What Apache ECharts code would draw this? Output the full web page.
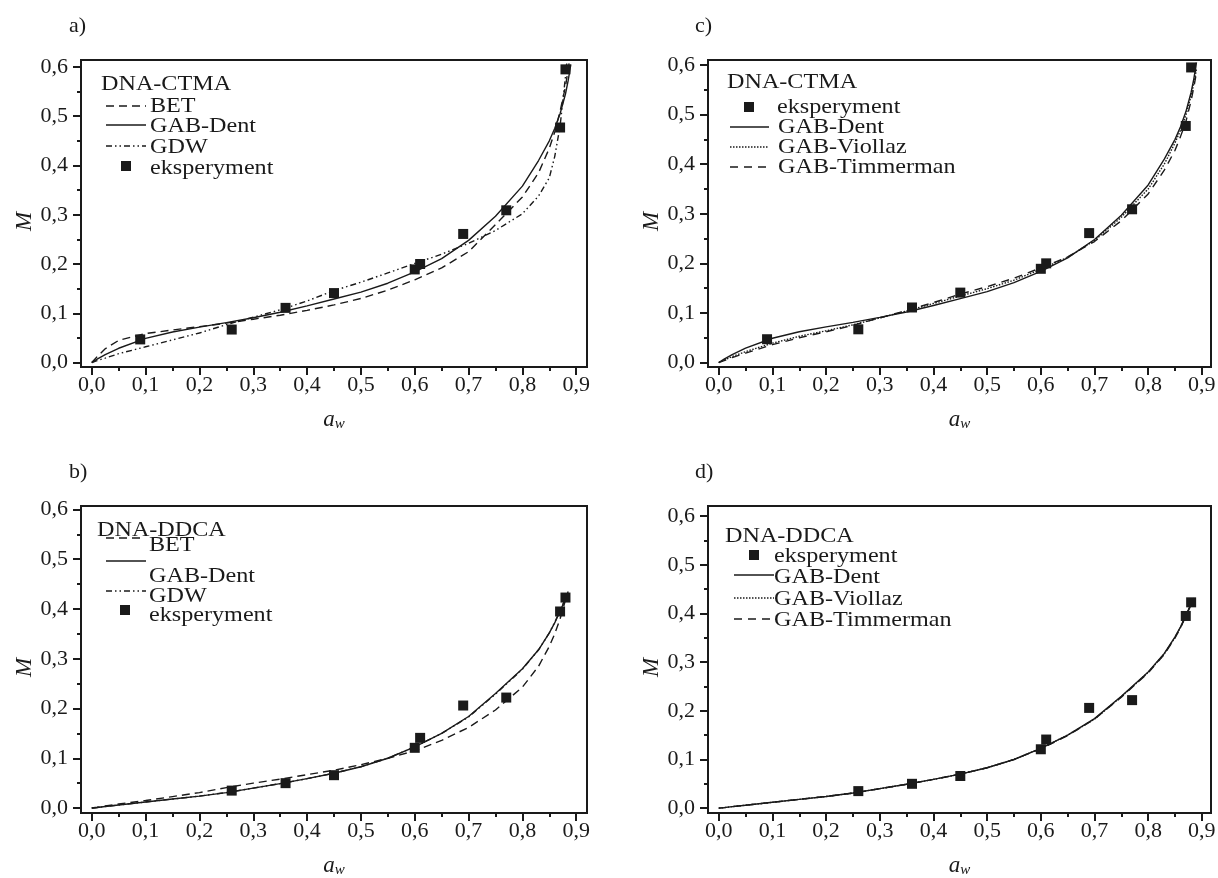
<!DOCTYPE html>
<html>
<head>
<meta charset="utf-8">
<script src="https://cdn.jsdelivr.net/npm/echarts@6/dist/echarts.min.js"></script>
<style>
  html, body { margin: 0; padding: 0; background: #fff; }
  #chart { width: 1218px; height: 878px; }
</style>
</head>
<body>
<div id="chart"></div>
<script>
// ---- measured points ----
const awCTMA = [0.09, 0.26, 0.36, 0.45, 0.60, 0.61, 0.69, 0.77, 0.87, 0.88]
const mCTMA = [0.047, 0.067, 0.111, 0.141, 0.189, 0.200, 0.261, 0.309, 0.477, 0.595]
const awDDCA = [0.26, 0.36, 0.45, 0.60, 0.61, 0.69, 0.77, 0.87, 0.88]
const mDDCA = [0.035, 0.050, 0.066, 0.121, 0.141, 0.206, 0.222, 0.395, 0.423]

// ---- model curves ----
const curveAw = [0, 0.01, 0.025, 0.05, 0.1, 0.15, 0.2, 0.25, 0.3, 0.35, 0.4, 0.45, 0.5, 0.55, 0.6, 0.65, 0.7, 0.75, 0.8, 0.83, 0.85, 0.86, 0.87, 0.88, 0.885, 0.89]
// DNA-CTMA
const betCTMA = [0, 0.012, 0.028, 0.045, 0.059, 0.066, 0.073, 0.080, 0.088, 0.096, 0.106, 0.117, 0.130, 0.147, 0.168, 0.192, 0.225, 0.280, 0.336, 0.385, 0.435, 0.468, 0.510, 0.560, 0.595, 0.630]
const dentCTMA = [0, 0.007, 0.016, 0.029, 0.049, 0.062, 0.072, 0.081, 0.091, 0.102, 0.115, 0.129, 0.143, 0.161, 0.184, 0.211, 0.248, 0.297, 0.358, 0.410, 0.450, 0.475, 0.505, 0.545, 0.572, 0.605]
const gdwCTMA = [0, 0.004, 0.009, 0.018, 0.032, 0.046, 0.060, 0.077, 0.092, 0.107, 0.125, 0.146, 0.163, 0.182, 0.201, 0.220, 0.242, 0.268, 0.302, 0.338, 0.375, 0.418, 0.480, 0.580, 0.640, null]
const viollazCTMA = [0, 0.005, 0.012, 0.022, 0.039, 0.053, 0.064, 0.076, 0.090, 0.104, 0.119, 0.134, 0.149, 0.166, 0.188, 0.212, 0.246, 0.293, 0.350, 0.400, 0.443, 0.468, 0.498, 0.538, 0.563, 0.592]
const timmermanCTMA = [0, 0.004, 0.010, 0.019, 0.036, 0.050, 0.062, 0.075, 0.090, 0.105, 0.121, 0.138, 0.153, 0.170, 0.191, 0.213, 0.244, 0.286, 0.340, 0.388, 0.428, 0.455, 0.485, 0.528, 0.555, 0.585]
// DNA-DDCA
const betDDCA = [0, 0.0015, 0.004, 0.008, 0.015, 0.023, 0.031, 0.041, 0.050, 0.058, 0.067, 0.076, 0.087, 0.100, 0.115, 0.136, 0.162, 0.197, 0.243, 0.285, 0.325, 0.350, 0.380, 0.418, 0.435, null]
const dentDDCA = [0, 0.001, 0.003, 0.006, 0.012, 0.018, 0.024, 0.031, 0.040, 0.049, 0.059, 0.070, 0.083, 0.100, 0.123, 0.150, 0.184, 0.230, 0.280, 0.318, 0.352, 0.372, 0.396, 0.420, 0.432, null]
const gdwDDCA = [0, 0.001, 0.003, 0.006, 0.012, 0.018, 0.024, 0.031, 0.040, 0.049, 0.059, 0.070, 0.083, 0.100, 0.123, 0.150, 0.183, 0.229, 0.279, 0.318, 0.352, 0.373, 0.397, 0.421, 0.432, null]
const viollazDDCA = [0, 0.001, 0.003, 0.006, 0.012, 0.018, 0.024, 0.031, 0.040, 0.049, 0.059, 0.070, 0.083, 0.100, 0.123, 0.150, 0.183, 0.229, 0.279, 0.317, 0.351, 0.371, 0.395, 0.419, 0.431, null]
const timmermanDDCA = [0, 0.001, 0.003, 0.006, 0.012, 0.018, 0.024, 0.031, 0.040, 0.049, 0.059, 0.070, 0.083, 0.100, 0.122, 0.149, 0.183, 0.228, 0.278, 0.316, 0.350, 0.370, 0.394, 0.418, 0.430, null]

// ---- ticks ----
const xMajor = [0, 0.1, 0.2, 0.3, 0.4, 0.5, 0.6, 0.7, 0.8, 0.9]
const xMinor = [0.05, 0.15, 0.25, 0.35, 0.45, 0.55, 0.65, 0.75, 0.85]
const yMajor = [0, 0.1, 0.2, 0.3, 0.4, 0.5, 0.6]
const yMinor = [0.05, 0.15, 0.25, 0.35, 0.45, 0.55]

const FONT = '"Liberation Serif", "DejaVu Serif", serif'
const INK = '#1a1a1a'
const DASH_BET = [8, 5]
const DASH_GDW = [6, 3, 1.5, 3, 1.5, 3]
const DASH_VIOL = [1.5, 1.5]
const DASH_TIMM = [8, 6]

const panels = [
  { grid: { left: 81, top: 60, width: 506, height: 307 }, x: [-0.02, 0.92], y: [-0.009, 0.614] },
  { grid: { left: 708, top: 60, width: 503, height: 307 }, x: [-0.02, 0.917], y: [-0.009, 0.61] },
  { grid: { left: 81, top: 506, width: 506, height: 307 }, x: [-0.02, 0.92], y: [-0.01, 0.607] },
  { grid: { left: 708, top: 506, width: 503, height: 307 }, x: [-0.02, 0.917], y: [-0.01, 0.621] }
]

const fmt = (v) => v.toFixed(1).replace('.', ',')

const grids = []
const xAxes = []
const yAxes = []
panels.forEach((p, i) => {
  grids.push({
    ...p.grid,
    show: true,
    borderColor: INK,
    borderWidth: 2,
    backgroundColor: 'transparent',
    containLabel: false,
    outerBoundsMode: 'none'
  })
  xAxes.push({
    type: 'value', gridIndex: i, position: 'bottom', min: p.x[0], max: p.x[1],
    axisLine: { show: true, onZero: false, lineStyle: { color: INK, width: 2 } },
    axisTick: { show: true, customValues: xMajor, length: 8, lineStyle: { color: INK, width: 2 } },
    axisLabel: { customValues: xMajor, formatter: fmt, margin: 7, color: INK, fontFamily: FONT, fontSize: 22 },
    splitLine: { show: false },
    name: '{a|a}{w|w}', nameLocation: 'middle', nameGap: 41,
    nameTextStyle: {
      rich: {
        a: { fontFamily: FONT, fontStyle: 'italic', fontSize: 23, lineHeight: 24, color: INK, verticalAlign: 'top' },
        w: { fontFamily: FONT, fontStyle: 'italic', fontSize: 15, lineHeight: 16, color: INK, verticalAlign: 'bottom', padding: [12, 0, 0, 0] }
      }
    }
  })
  xAxes.push({
    type: 'value', gridIndex: i, position: 'bottom', offset: 0, min: p.x[0], max: p.x[1],
    axisLine: { show: false, onZero: false },
    axisTick: { show: true, customValues: xMinor, length: 4, lineStyle: { color: INK, width: 2 } },
    axisLabel: { show: false },
    splitLine: { show: false }
  })
  yAxes.push({
    type: 'value', gridIndex: i, position: 'left', min: p.y[0], max: p.y[1],
    axisLine: { show: true, onZero: false, lineStyle: { color: INK, width: 2 } },
    axisTick: { show: true, customValues: yMajor, length: 8, lineStyle: { color: INK, width: 2 } },
    axisLabel: { customValues: yMajor, formatter: fmt, margin: 13, color: INK, fontFamily: FONT, fontSize: 22 },
    splitLine: { show: false },
    name: 'M', nameLocation: 'middle', nameGap: 44,
    nameTextStyle: { fontFamily: FONT, fontStyle: 'italic', fontSize: 23, color: INK, padding: [0, 16, 0, 0] }
  })
  yAxes.push({
    type: 'value', gridIndex: i, position: 'left', offset: 0, min: p.y[0], max: p.y[1],
    axisLine: { show: false, onZero: false },
    axisTick: { show: true, customValues: yMinor, length: 4, lineStyle: { color: INK, width: 2 } },
    axisLabel: { show: false },
    splitLine: { show: false }
  })
})

const zip = (xs, ys) => xs.map((x, i) => [x, ys[i]])

const curve = (panel, ys, dash) => ({
  type: 'line',
  xAxisIndex: panel * 2,
  yAxisIndex: panel * 2,
  data: zip(curveAw, ys),
  symbol: 'none',
  smooth: false,
  lineStyle: { color: INK, width: 1.4, type: dash },
  silent: true,
  z: 3
})

const points = (panel, xs, ys) => ({
  type: 'scatter',
  xAxisIndex: panel * 2,
  yAxisIndex: panel * 2,
  data: zip(xs, ys),
  symbol: 'rect',
  symbolSize: 10,
  itemStyle: { color: INK, opacity: 1 },
  silent: true,
  z: 5
})

const series = [
  // a) DNA-CTMA
  curve(0, betCTMA, DASH_BET),
  curve(0, dentCTMA, 'solid'),
  curve(0, gdwCTMA, DASH_GDW),
  points(0, awCTMA, mCTMA),
  // c) DNA-CTMA
  curve(1, dentCTMA, 'solid'),
  curve(1, viollazCTMA, DASH_VIOL),
  curve(1, timmermanCTMA, DASH_TIMM),
  points(1, awCTMA, mCTMA),
  // b) DNA-DDCA
  curve(2, betDDCA, DASH_BET),
  curve(2, dentDDCA, 'solid'),
  curve(2, gdwDDCA, DASH_GDW),
  points(2, awDDCA, mDDCA),
  // d) DNA-DDCA
  curve(3, dentDDCA, 'solid'),
  curve(3, viollazDDCA, DASH_VIOL),
  curve(3, timmermanDDCA, DASH_TIMM),
  points(3, awDDCA, mDDCA)
]

// ---- legend / labels drawn as graphics ----
const txt = (x, y, text, size, sx) => ({
  type: 'text', x: x, y: y, z: 10, scaleX: sx || 1.15,
  style: { text: text, fill: INK, fontFamily: FONT, fontSize: size || 21, verticalAlign: 'middle', align: 'left' }
})
const sample = (x1, x2, y, dash) => ({
  type: 'line', z: 10,
  shape: { x1: x1, y1: y, x2: x2, y2: y },
  style: { stroke: INK, lineWidth: 1.4, lineDash: dash === 'solid' ? null : dash }
})
const square = (cx, cy) => ({
  type: 'rect', z: 10,
  shape: { x: cx - 5, y: cy - 5, width: 10, height: 10 },
  style: { fill: INK }
})

const graphic = [
  txt(69, 26, 'a)', 22, 1), txt(695, 26, 'c)', 22, 1), txt(69, 472, 'b)', 22, 1), txt(695, 472, 'd)', 22, 1),
  // a
  txt(101, 84, 'DNA-CTMA'),
  sample(106, 146, 106, DASH_BET), txt(150, 106, 'BET'),
  sample(106, 146, 125, 'solid'), txt(150, 126, 'GAB-Dent'),
  sample(106, 146, 146, DASH_GDW), txt(150, 147, 'GDW'),
  square(126, 166), txt(150, 168, 'eksperyment'),
  // c
  txt(727, 82, 'DNA-CTMA'),
  square(749, 107), txt(777, 107, 'eksperyment'),
  sample(730, 769, 127, 'solid'), txt(778, 127, 'GAB-Dent'),
  sample(730, 769, 147, DASH_VIOL), txt(778, 147, 'GAB-Viollaz'),
  sample(730, 769, 167, DASH_TIMM), txt(778, 167, 'GAB-Timmerman'),
  // b
  txt(97, 530, 'DNA-DDCA'),
  sample(106, 145, 538, DASH_BET), txt(149, 545, 'BET'),
  sample(106, 146, 561, 'solid'), txt(149, 576, 'GAB-Dent'),
  sample(106, 146, 591, DASH_GDW), txt(149, 596, 'GDW'),
  square(125, 610), txt(149, 615, 'eksperyment'),
  // d
  txt(725, 536, 'DNA-DDCA'),
  square(754, 555), txt(774, 556, 'eksperyment'),
  sample(734, 774, 575, 'solid'), txt(774, 577, 'GAB-Dent'),
  sample(734, 774, 598, DASH_VIOL), txt(774, 599, 'GAB-Viollaz'),
  sample(734, 774, 619, DASH_TIMM), txt(774, 620, 'GAB-Timmerman')
]

const chart = echarts.init(document.getElementById('chart'))
chart.setOption({
  animation: false,
  backgroundColor: '#fff',
  grid: grids,
  xAxis: xAxes,
  yAxis: yAxes,
  series: series,
  graphic: graphic
})
</script>
</body>
</html>
